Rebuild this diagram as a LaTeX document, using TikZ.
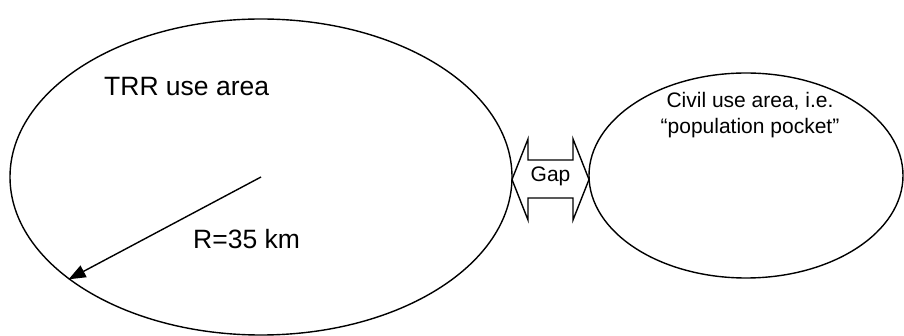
\documentclass[tikz,border=0pt]{standalone}
\usepackage{fontspec}
\setmainfont{Liberation Sans}
\usetikzlibrary{shapes.geometric,arrows.meta}
\begin{document}
\begin{tikzpicture}[x=1pt, y=-1pt,
			 zona/.style={ellipse, draw, line width=1.4pt, inner sep=0pt},
			 grande/.style={font=\fontsize{26.5}{30}\selectfont, inner sep=0pt},
			 chico/.style={font=\fontsize{21}{26}\selectfont, inner sep=0pt}
  		]
	\useasboundingbox (0,0) rectangle (904,336);

	%Creamos las zonas
		\node[zona, minimum width=502pt, minimum height=316pt] (trr) at (261,177) {};
		\node[zona, minimum width=314pt, minimum height=205pt] (civil) at (746,175.5) {};
	%Textos de las zonas
		\node[grande, anchor=base west] (ttrr) at (104,96) {TRR use area};
		\node[chico, anchor=base, align=center] (tcivil) at (750,134) {Civil use area, i.e.\\“population pocket”};
	%Radio
		\draw[line width=1.4pt, -{Triangle[length=17pt, width=13pt]}] (trr.center) -- (trr.208);
		\node[grande, anchor=base west] (radio) at (193,249) {R=35 km};
	%Flecha doble del hueco
		\node[chico, anchor=base] (gap) at (550.5,182) {Gap};
		\draw[line width=1.4pt, miter limit=20]
			(512,179.5) -- (528,139) -- (528,160) -- (573,160) -- (573,139) -- (589,179.5)
			-- (573,220) -- (573,198) -- (528,198) -- (528,220) -- cycle;
	\end{tikzpicture}
\end{document}
